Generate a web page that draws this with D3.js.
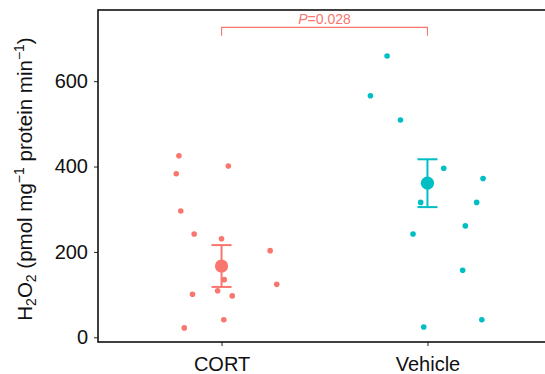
<!DOCTYPE html>
<html>
<head>
<meta charset="utf-8">
<script src="https://cdn.jsdelivr.net/npm/d3@7"></script>
<style>
  body { margin: 0; background: #fff; }
  svg { display: block; font-family: "Liberation Sans", Arial, sans-serif; }
</style>
</head>
<body>
<svg id="chart" width="545" height="374"></svg>
<script>
// groups and colours
const groups = ["CORT", "Vehicle"];
const groupColors = ["#F8766D", "#00BFC4"];

// individual H2O2 values
const cortValues = [425, 401, 383, 296, 242, 231, 203, 135, 101, 109, 97, 124, 41, 22];
const vehicleValues = [659, 566, 509, 396, 372, 316, 316, 261, 242, 157, 41, 24];

// horizontal jitter, as a fraction of the category step
const cortJitter = [-0.207, 0.033, -0.220, -0.198, -0.133, 0, 0.236, 0.013, -0.141, -0.019, 0.052, 0.268, 0.011, -0.181];
const vehicleJitter = [-0.196, -0.277, -0.131, 0.079, 0.270, -0.033, 0.239, 0.184, -0.070, 0.171, 0.264, -0.018];

// mean +/- SE per group
const groupMeans = [167, 361];
const groupSE = [49, 56];

const yTicks = [0, 200, 400, 600];
const pLabel = "0.028";
const bracketValue = 726;

const width = 545, height = 374;
const margin = { top: 10, right: -6, bottom: 32, left: 98 };

const svg = d3.select("#chart");

const x = d3.scalePoint()
    .domain(groups)
    .range([margin.left, width - margin.right])
    .padding(0.6);

const y = d3.scaleLinear()
    .domain([-11, 766.7])
    .range([height - margin.bottom, margin.top]);

const color = d3.scaleOrdinal().domain(groups).range(groupColors);

const points = [];
cortValues.forEach((v, i) => points.push({ group: "CORT", value: v, jit: cortJitter[i] }));
vehicleValues.forEach((v, i) => points.push({ group: "Vehicle", value: v, jit: vehicleJitter[i] }));

const summary = groups.map((g, i) => ({ group: g, mean: groupMeans[i], se: groupSE[i] }));

// raw points
svg.append("g")
    .selectAll("circle")
    .data(points)
    .enter().append("circle")
    .attr("cx", d => x(d.group) + d.jit * x.step())
    .attr("cy", d => y(d.value))
    .attr("r", 2.8)
    .attr("fill", d => color(d.group));

// error bars
const eb = svg.append("g")
    .selectAll("g")
    .data(summary)
    .enter().append("g")
    .attr("stroke", d => color(d.group))
    .attr("stroke-width", 2);

eb.append("line")
    .attr("x1", d => x(d.group)).attr("x2", d => x(d.group))
    .attr("y1", d => y(d.mean - d.se)).attr("y2", d => y(d.mean + d.se));
eb.append("line")
    .attr("x1", d => x(d.group) - 10).attr("x2", d => x(d.group) + 10)
    .attr("y1", d => y(d.mean + d.se)).attr("y2", d => y(d.mean + d.se));
eb.append("line")
    .attr("x1", d => x(d.group) - 10).attr("x2", d => x(d.group) + 10)
    .attr("y1", d => y(d.mean - d.se)).attr("y2", d => y(d.mean - d.se));

svg.append("g")
    .selectAll("circle")
    .data(summary)
    .enter().append("circle")
    .attr("cx", d => x(d.group))
    .attr("cy", d => y(d.mean))
    .attr("r", 6.6)
    .attr("fill", d => color(d.group));

// significance bracket
const bx1 = x(groups[0]), bx2 = x(groups[1]);
svg.append("path")
    .attr("d", `M${bx1},${y(bracketValue) + 8.5}V${y(bracketValue)}H${bx2}V${y(bracketValue) + 8.5}`)
    .attr("fill", "none")
    .attr("stroke", "#F8766D")
    .attr("stroke-width", 1.1);

const pText = svg.append("text")
    .attr("x", (bx1 + bx2) / 2)
    .attr("y", y(bracketValue) - 3.5)
    .attr("text-anchor", "middle")
    .attr("font-size", 14)
    .attr("fill", "#F8766D");
pText.append("tspan").attr("font-style", "italic").text("P");
pText.append("tspan").text("=" + pLabel);

// axes
const xAxis = svg.append("g")
    .attr("transform", `translate(0,${height - margin.bottom})`)
    .call(d3.axisBottom(x).tickSize(4).tickPadding(6));

const yAxis = svg.append("g")
    .attr("transform", `translate(${margin.left},0)`)
    .call(d3.axisLeft(y).tickValues(yTicks).tickSize(4).tickPadding(6));

[xAxis, yAxis].forEach(a => {
    a.select(".domain").remove();
    a.selectAll(".tick line").attr("stroke", "#222").attr("stroke-width", 1);
    a.selectAll(".tick text").attr("fill", "#111").attr("font-size", 20)
        .attr("font-family", "Liberation Sans, Arial, sans-serif");
});
xAxis.selectAll(".tick text").attr("dy", "0.93em");

// panel border (right side falls outside the picture)
svg.append("rect")
    .attr("x", margin.left)
    .attr("y", margin.top)
    .attr("width", width - margin.right - margin.left)
    .attr("height", height - margin.bottom - margin.top)
    .attr("fill", "none")
    .attr("stroke", "#111")
    .attr("stroke-width", 1.6);

// y title
const title = svg.append("text")
    .attr("transform", `translate(32,${(margin.top + height - margin.bottom) / 2 + 3}) rotate(-90)`)
    .attr("text-anchor", "middle")
    .attr("font-size", 20.5)
    .attr("fill", "#111");
title.append("tspan").text("H");
title.append("tspan").attr("font-size", 14).attr("dy", 4).text("2");
title.append("tspan").attr("dy", -4).text("O");
title.append("tspan").attr("font-size", 14).attr("dy", 4).text("2");
title.append("tspan").attr("dy", -4).text(" (pmol mg");
title.append("tspan").attr("font-size", 14).attr("dy", -8).text("\u22121");
title.append("tspan").attr("dy", 8).text(" protein min");
title.append("tspan").attr("font-size", 14).attr("dy", -8).text("\u22121");
title.append("tspan").attr("dy", 8).text(")");
</script>
</body>
</html>
